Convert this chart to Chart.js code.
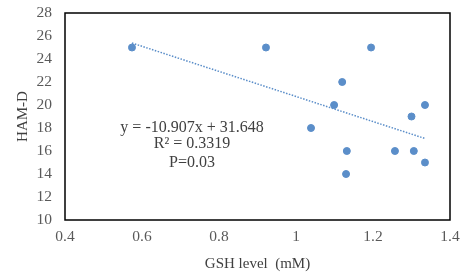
<!DOCTYPE html>
<html>
<head>
<meta charset="utf-8">
<script src="https://cdn.jsdelivr.net/npm/chart.js@4"></script>
<style>
  html, body { margin: 0; padding: 0; background: #fff; }
  #wrap { width: 470px; height: 273px; }
</style>
</head>
<body>
<div id="wrap"><canvas id="scatter"></canvas></div>
<script>
// GSH level (mM) vs HAM-D score
const gshLevel = [0.574, 0.922, 1.195, 1.12, 1.099, 1.335, 1.30, 1.039, 1.132, 1.257, 1.306, 1.335, 1.13];
const hamD = [25, 25, 25, 22, 20, 20, 19, 18, 16, 16, 16, 15, 14];

const slope = -10.907;
const intercept = 31.648;
const trendX = [0.574, 1.335];

const annotationLines = ["y = -10.907x + 31.648", "R\u00b2 = 0.3319", "P=0.03"];
const annotationY = [18.0, 16.6, 15.0];
const annotationX = 0.73;

const xTicks = [0.4, 0.6, 0.8, 1, 1.2, 1.4];

const serif = "'Liberation Serif', 'DejaVu Serif', serif";
const textColor = "#595959";
const dotColor = "#5b8ec9";

const points = gshLevel.map((x, i) => ({ x: x, y: hamD[i] }));
const trend = trendX.map((x) => ({ x: x, y: slope * x + intercept }));

// frame around the plot area + the regression text
const framePlugin = {
  id: "frame",
  afterDraw(chart) {
    const { ctx, chartArea, scales } = chart;
    ctx.save();
    ctx.strokeStyle = "#000";
    ctx.lineWidth = 1.5;
    ctx.strokeRect(chartArea.left, chartArea.top, chartArea.right - chartArea.left, chartArea.bottom - chartArea.top);
    ctx.fillStyle = "#404040";
    ctx.font = "16px " + serif;
    ctx.textAlign = "center";
    ctx.textBaseline = "middle";
    annotationLines.forEach((line, i) => {
      ctx.fillText(line, scales.x.getPixelForValue(annotationX), scales.y.getPixelForValue(annotationY[i]));
    });
    ctx.restore();
  },
};

new Chart(document.getElementById("scatter"), {
  type: "scatter",
  data: {
    datasets: [
      {
        data: points,
        backgroundColor: dotColor,
        borderColor: dotColor,
        pointRadius: 3.5,
        pointHoverRadius: 3.5,
      },
      {
        type: "line",
        data: trend,
        borderColor: dotColor,
        borderWidth: 1.5,
        borderDash: [1.5, 1.5],
        pointRadius: 0,
        fill: false,
      },
    ],
  },
  options: {
    responsive: true,
    maintainAspectRatio: false,
    animation: false,
    layout: { padding: { top: 13, right: 20, left: 0, bottom: 0 } },
    plugins: { legend: { display: false }, tooltip: { enabled: false } },
    scales: {
      x: {
        type: "linear",
        min: 0.4,
        max: 1.4,
        afterBuildTicks(scale) {
          scale.ticks = xTicks.map((v) => ({ value: v }));
        },
        afterFit(scale) {
          scale.height = 53;
          scale.paddingLeft = 0;
          scale.paddingRight = 0;
        },
        grid: { display: false, drawTicks: false },
        border: { display: false },
        ticks: {
          padding: 8,
          color: textColor,
          font: { family: serif, size: 15.5 },
          callback: (v) => String(v),
        },
        title: {
          display: true,
          text: "GSH level  (mM)",
          color: "#404040",
          font: { family: serif, size: 15 },
          padding: { top: 2, bottom: 0 },
        },
      },
      y: {
        min: 10,
        max: 28,
        afterFit(scale) {
          scale.width = 65;
          scale.paddingTop = 0;
          scale.paddingBottom = 0;
        },
        grid: { display: false, drawTicks: false },
        border: { display: false },
        ticks: {
          stepSize: 2,
          padding: 13,
          color: textColor,
          font: { family: serif, size: 15.5 },
        },
        title: {
          display: true,
          text: "HAM-D",
          color: "#404040",
          font: { family: serif, size: 15 },
          padding: { top: 14, bottom: 0 },
        },
      },
    },
  },
  plugins: [framePlugin],
});
</script>
</body>
</html>
